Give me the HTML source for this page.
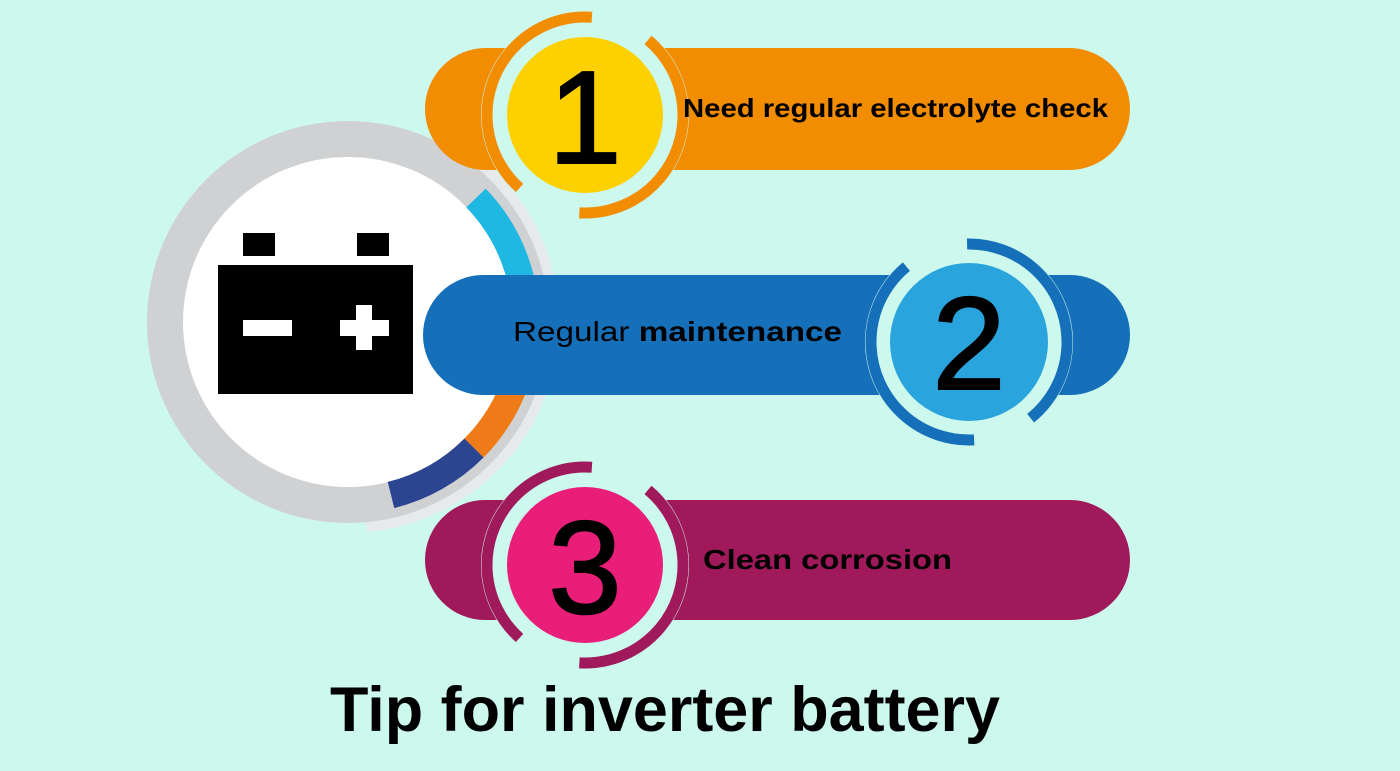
<!DOCTYPE html>
<html><head><meta charset="utf-8"><style>
html,body{margin:0;padding:0;background:#cdf8ee;}
svg{display:block;}
text{font-family:"Liberation Sans",Arial,sans-serif;}
</style></head><body>
<svg width="1400" height="771" viewBox="0 0 1400 771" xmlns="http://www.w3.org/2000/svg">
<rect width="1400" height="771" fill="#cdf8ee"/>
<path d="M 480 165 A 205 205 0 0 1 366 526" fill="none" stroke="#e6eaea" stroke-width="12"/>
<circle cx="348" cy="322" r="201" fill="#cfd1d3"/>
<circle cx="348" cy="322" r="165" fill="#fff"/>
<g fill="none" stroke-width="27">
<path d="M 476 198 A 178 178 0 0 1 523 353" stroke="#1fb8e2"/>
<path d="M 523 353 A 178 178 0 0 1 474 448" stroke="#ee7a18"/>
<path d="M 474 448 A 178 178 0 0 1 391 495" stroke="#2c4590"/>
</g>
<rect x="425" y="48" width="705" height="122" rx="61" fill="#f28c00"/>
<rect x="423" y="275" width="707" height="120" rx="60" fill="#1570b9"/>
<rect x="425" y="500" width="705" height="120" rx="60" fill="#a0195a"/>
<circle cx="585" cy="115" r="104" fill="#cdf8ee"/>
<circle cx="585" cy="115" r="98" fill="none" stroke="#f28c00" stroke-width="11" stroke-dasharray="245 66 243 62" transform="rotate(-50 585 115)"/>
<circle cx="585" cy="115" r="78" fill="#fdd000"/>
<text x="585" y="163" font-size="132" text-anchor="middle" fill="#000" stroke="#000" stroke-width="2">1</text>
<circle cx="969" cy="342" r="104" fill="#cdf8ee"/>
<circle cx="969" cy="342" r="98" fill="none" stroke="#1570b9" stroke-width="11" stroke-dasharray="245 66 243 62" transform="rotate(87 969 342)"/>
<circle cx="969" cy="342" r="79" fill="#2aa4dd"/>
<text x="969" y="389" font-size="132" text-anchor="middle" fill="#000" stroke="#000" stroke-width="2">2</text>
<circle cx="585" cy="565" r="104" fill="#cdf8ee"/>
<circle cx="585" cy="565" r="98" fill="none" stroke="#a0195a" stroke-width="11" stroke-dasharray="245 66 243 62" transform="rotate(-50 585 565)"/>
<circle cx="585" cy="565" r="78" fill="#e91e79"/>
<text x="585" y="613" font-size="132" text-anchor="middle" fill="#000" stroke="#000" stroke-width="2">3</text>
<rect x="243" y="233" width="32" height="23" fill="#000"/>
<rect x="357" y="233" width="32" height="23" fill="#000"/>
<rect x="218" y="265" width="195" height="129" fill="#000"/>
<rect x="243" y="320" width="49" height="16" fill="#fff"/>
<rect x="340" y="320" width="49" height="16" fill="#fff"/>
<rect x="356" y="305" width="16" height="45" fill="#fff"/>
<text x="683" y="117" font-size="26" font-weight="bold" fill="#000" textLength="425" lengthAdjust="spacingAndGlyphs">Need regular electrolyte check</text>
<text x="513" y="341" font-size="28" fill="#000" textLength="329" lengthAdjust="spacingAndGlyphs">Regular <tspan font-weight="bold">maintenance</tspan></text>
<text x="703" y="569" font-size="28" font-weight="bold" fill="#000" textLength="249" lengthAdjust="spacingAndGlyphs">Clean corrosion</text>
<text x="330" y="731" font-size="63" font-weight="bold" fill="#000" textLength="670" lengthAdjust="spacingAndGlyphs">Tip for inverter battery</text>
</svg>
</body></html>
